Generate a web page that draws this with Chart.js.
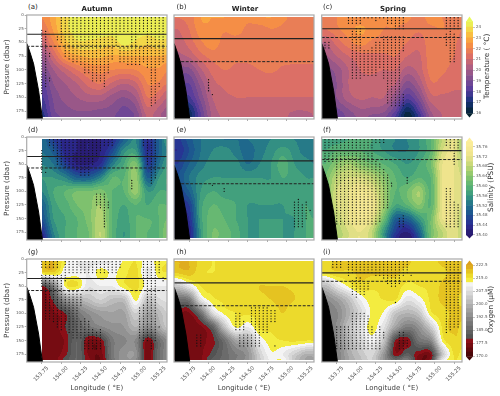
<!DOCTYPE html>
<html>
<head>
<meta charset="utf-8">
<script src="https://cdn.jsdelivr.net/npm/chart.js@4/dist/chart.umd.min.js"></script>
<style>
  body { margin: 0; background: #fff; }
  #page { position: relative; width: 500px; height: 396px; overflow: hidden; font-family: "DejaVu Sans", sans-serif; }
  canvas { position: absolute; }
  .lab { position: absolute; white-space: nowrap; color: #222; line-height: 1; }
  .bar-title { position: absolute; white-space: nowrap; color: #333; font-size: 7.3px; line-height: 8px; height: 8px; transform-origin: 0 0; transform: rotate(-90deg); }
</style>
</head>
<body>
<div id="page"></div>
<script>
var lonGrid = [153.60, 153.75, 153.90, 154.05, 154.20, 154.35, 154.50, 154.65, 154.80, 154.95, 155.10, 155.25, 155.35];
var pressureGrid = [5, 25, 50, 75, 100, 125, 150, 175, 185];
var lonTicks = [153.75, 154.00, 154.25, 154.50, 154.75, 155.00, 155.25];
var pressureTicks = [0, 25, 50, 75, 100, 125, 150, 175];
var terrainLon = [153.56, 153.60, 153.646, 153.71, 153.76];
var terrainP = [52, 68, 89, 138, 190];

var tempLevels = [16, 16.5, 17, 17.5, 18, 18.5, 19, 19.5, 20, 20.5, 21, 21.5, 22, 22.5, 23, 23.5, 24, 24.5];
var tempTicks = [16, 17, 18, 19, 20, 21, 22, 23, 24];
var salLevels = [35.40, 35.42, 35.44, 35.46, 35.48, 35.50, 35.52, 35.54, 35.56, 35.58, 35.60, 35.62, 35.64, 35.66, 35.68, 35.70, 35.72, 35.74, 35.76, 35.78];
var salTicks = [35.40, 35.44, 35.48, 35.52, 35.56, 35.60, 35.64, 35.68, 35.72, 35.76];
var oxyLevels = [170, 172.5, 175, 177.5, 180, 182.5, 185, 187.5, 190, 192.5, 195, 197.5, 200, 202.5, 205, 207.5, 210, 212.5, 215, 217.5, 220, 222.5];
var oxyTicks = [170, 177.5, 185, 192.5, 200, 207.5, 215, 222.5];

// mixed layer (solid) and second layer (dashed) depth per panel, a..i
var solidDepth = [35, 43, 25, 36, 44, 25, 36, 44, 25.5];
var dashedDepth = [57, 85, 41, 57, 86, 41.5, 58, 86, 41];

var tempA = [
  [22, 22, 22.8, 23.8, 24.3, 24.3, 24.3, 24.3, 24.3, 24.3, 24.3, 24.3, 24.3],
  [21.5, 21.5, 22.6, 23.8, 24.2, 24.3, 24.3, 24.3, 24.3, 24.3, 24.3, 24.3, 24.3],
  [20.7, 20.7, 22, 23.3, 23.9, 23.9, 23.8, 23.7, 24.2, 23.9, 23.6, 23.9, 23.8],
  [19.6, 19.6, 21, 22.4, 22.9, 23.1, 23.1, 22.9, 23, 23, 23, 23, 22.9],
  [19, 19, 20, 20.8, 21.5, 22, 22.2, 22, 21.9, 22, 22.4, 22.4, 22.1],
  [18.2, 18.2, 19.5, 20, 20.5, 21.2, 21.5, 20.9, 20.5, 20.9, 22, 21.9, 21.5],
  [17.9, 17.9, 19.1, 19.7, 20, 20.3, 20.3, 19.8, 19.5, 20, 21.5, 21.1, 20.5],
  [17.4, 17.4, 18.9, 19.3, 19.5, 19.5, 19.4, 19.3, 18.8, 19.3, 20.8, 20.3, 19.8],
  [17.2, 17.2, 18.7, 19.1, 19.3, 19.3, 19.2, 19.1, 18.6, 19.1, 20.6, 20.1, 19.6]
];
var tempB = [
  [21.5, 21.7, 22.5, 22.5, 22.5, 22.4, 22.1, 22.4, 22.5, 22.1, 21.9, 21.8, 21.8],
  [21, 21.5, 22.3, 22.4, 22.1, 22.2, 21.9, 21.8, 22, 21.9, 21.8, 21.8, 21.7],
  [20.7, 21.2, 21.9, 22.3, 21.8, 21.8, 21.8, 21.8, 21.8, 21.7, 21.7, 21.7, 21.6],
  [20.3, 20.6, 21.3, 21.7, 21.7, 21.6, 21.6, 21.6, 21.7, 21.7, 21.6, 21.6, 21.6],
  [19.3, 19.3, 20.4, 21.2, 21.5, 21.4, 21.4, 21.5, 21.6, 21.4, 21.4, 21.4, 21.4],
  [18.8, 18.5, 19.7, 20.8, 21.1, 21.1, 21.1, 21.1, 21.1, 21.1, 21.1, 21.1, 21.1],
  [18, 17.9, 19.2, 20.5, 20.9, 21, 21, 21, 21, 21, 21, 21, 21],
  [17, 16.8, 18.6, 20.2, 20.7, 20.9, 20.9, 20.9, 20.9, 20.7, 20.5, 20.5, 20.6],
  [16.5, 16.6, 18.4, 20.1, 20.6, 20.8, 20.9, 20.9, 20.9, 20.6, 20.4, 20.4, 20.5]
];
var tempC = [
  [21.8, 22, 22.1, 22.1, 22.1, 22, 22.1, 22.1, 21.8, 22.2, 22, 21.9, 21.5],
  [21.5, 21.9, 22.3, 22.6, 22.3, 22, 22, 21.8, 21.6, 21.9, 22, 21.8, 21.5],
  [20.5, 21.2, 21.8, 22.2, 21.9, 21.8, 21.8, 21.5, 21.2, 21.8, 21.8, 21.6, 21.3],
  [19.9, 20.5, 21, 21.3, 21.4, 21.4, 21.5, 21, 20.9, 21.8, 21.8, 21.5, 21.3],
  [19.3, 19.7, 20.5, 21, 21.1, 21, 21, 20.3, 20.7, 21.7, 21.6, 21.3, 21.2],
  [19.1, 19.5, 20.5, 20.8, 20.8, 20.7, 20.5, 19.3, 20.1, 21.4, 21.3, 21.1, 21.1],
  [18.7, 19.5, 20.3, 20.6, 20.5, 20.5, 19.6, 18.2, 19.2, 20.8, 20.9, 20.9, 20.9],
  [18.4, 18.8, 19.4, 19.9, 19.8, 19.6, 18.5, 16.6, 18.1, 20, 20.6, 20.7, 20.8],
  [18.2, 18.5, 19.2, 19.6, 19.4, 19.2, 18, 16.2, 17.6, 19.7, 20.5, 20.6, 20.7]
];
var salD = [
  [35.52, 35.52, 35.46, 35.43, 35.42, 35.42, 35.42, 35.44, 35.50, 35.54, 35.44, 35.50, 35.56],
  [35.52, 35.52, 35.49, 35.43, 35.42, 35.42, 35.42, 35.47, 35.55, 35.56, 35.44, 35.50, 35.54],
  [35.54, 35.54, 35.52, 35.46, 35.42, 35.42, 35.44, 35.53, 35.58, 35.63, 35.46, 35.52, 35.56],
  [35.56, 35.56, 35.56, 35.54, 35.50, 35.50, 35.54, 35.60, 35.60, 35.65, 35.50, 35.56, 35.58],
  [35.54, 35.54, 35.58, 35.60, 35.62, 35.62, 35.63, 35.60, 35.60, 35.65, 35.56, 35.58, 35.58],
  [35.50, 35.50, 35.57, 35.59, 35.62, 35.63, 35.66, 35.60, 35.58, 35.60, 35.58, 35.60, 35.60],
  [35.48, 35.48, 35.56, 35.58, 35.60, 35.63, 35.67, 35.60, 35.57, 35.60, 35.60, 35.60, 35.62],
  [35.44, 35.44, 35.54, 35.58, 35.60, 35.62, 35.68, 35.60, 35.56, 35.60, 35.60, 35.60, 35.64],
  [35.42, 35.42, 35.53, 35.58, 35.60, 35.62, 35.68, 35.60, 35.56, 35.60, 35.60, 35.60, 35.64]
];
var salE = [
  [35.45, 35.49, 35.52, 35.53, 35.52, 35.52, 35.52, 35.53, 35.54, 35.54, 35.54, 35.53, 35.53],
  [35.44, 35.48, 35.52, 35.54, 35.55, 35.53, 35.51, 35.53, 35.55, 35.57, 35.55, 35.53, 35.53],
  [35.46, 35.50, 35.53, 35.55, 35.55, 35.55, 35.52, 35.54, 35.56, 35.59, 35.56, 35.55, 35.54],
  [35.48, 35.52, 35.55, 35.56, 35.56, 35.56, 35.56, 35.56, 35.56, 35.58, 35.57, 35.56, 35.56],
  [35.46, 35.50, 35.56, 35.58, 35.57, 35.57, 35.57, 35.57, 35.57, 35.57, 35.57, 35.57, 35.57],
  [35.44, 35.46, 35.57, 35.60, 35.59, 35.58, 35.56, 35.56, 35.56, 35.56, 35.57, 35.58, 35.57],
  [35.42, 35.44, 35.57, 35.61, 35.60, 35.58, 35.56, 35.56, 35.56, 35.56, 35.56, 35.58, 35.58],
  [35.41, 35.42, 35.56, 35.62, 35.61, 35.59, 35.56, 35.56, 35.56, 35.56, 35.56, 35.58, 35.58],
  [35.41, 35.42, 35.56, 35.62, 35.61, 35.59, 35.56, 35.56, 35.56, 35.56, 35.56, 35.58, 35.58]
];
var salF = [
  [35.56, 35.57, 35.58, 35.58, 35.58, 35.55, 35.54, 35.54, 35.56, 35.60, 35.68, 35.72, 35.66],
  [35.58, 35.60, 35.60, 35.60, 35.58, 35.56, 35.54, 35.54, 35.56, 35.60, 35.70, 35.72, 35.66],
  [35.60, 35.64, 35.66, 35.64, 35.62, 35.60, 35.58, 35.56, 35.58, 35.62, 35.72, 35.72, 35.68],
  [35.62, 35.68, 35.70, 35.70, 35.68, 35.64, 35.60, 35.58, 35.60, 35.60, 35.72, 35.72, 35.70],
  [35.62, 35.70, 35.72, 35.74, 35.72, 35.66, 35.60, 35.62, 35.66, 35.60, 35.72, 35.72, 35.70],
  [35.62, 35.70, 35.72, 35.75, 35.74, 35.66, 35.58, 35.60, 35.64, 35.60, 35.72, 35.72, 35.70],
  [35.62, 35.68, 35.72, 35.74, 35.72, 35.62, 35.50, 35.50, 35.56, 35.62, 35.72, 35.72, 35.68],
  [35.62, 35.66, 35.70, 35.72, 35.68, 35.56, 35.46, 35.42, 35.50, 35.62, 35.68, 35.72, 35.68],
  [35.62, 35.66, 35.70, 35.72, 35.68, 35.56, 35.44, 35.40, 35.48, 35.62, 35.68, 35.72, 35.68]
];
var oxyG = [
  [218, 218, 220, 213, 210, 209, 209, 210, 213, 215, 211, 214, 215],
  [216, 216, 217, 211, 211, 210, 214, 212, 214, 216, 209, 214, 215],
  [180, 179, 190, 213, 215, 208, 210, 210, 214, 216, 211, 210, 210],
  [177, 176, 181, 194, 199, 202, 205, 202, 202, 213, 203, 207, 208],
  [176, 175, 177, 180, 188, 193, 196, 197, 197, 205, 197, 201, 205],
  [176, 176, 176, 180, 185, 189, 192, 194, 195, 200, 193, 198, 203],
  [176, 176, 176, 178, 185, 177, 178, 189, 192, 192, 177, 187, 192],
  [176, 176, 176, 179, 185, 177, 176, 189, 194, 194, 176, 187, 192],
  [176, 176, 176, 181, 185, 178, 175, 188, 194, 193, 176, 187, 192]
];
var oxyH = [
  [220, 220, 216.5, 215, 215.5, 215.5, 215.5, 215.5, 215.5, 215.5, 215.5, 215.5, 215.5],
  [218, 219, 215.5, 215, 215.5, 215.5, 216.5, 216.5, 216, 216, 216, 215.5, 215.5],
  [203, 209, 215, 215.5, 216, 216, 217, 217.5, 217.5, 217.5, 217, 216, 216],
  [187, 189, 208, 214, 215.5, 216, 217, 217, 217.5, 218, 217.5, 216, 216],
  [178, 177, 187, 206, 213, 215, 215.5, 215.5, 216, 217.5, 216, 216, 216],
  [176, 176, 177, 184, 202, 213, 210, 215.5, 215.5, 216, 216, 216, 216],
  [176, 176, 177, 179, 187, 197, 199, 210, 214, 215, 215.5, 215, 215],
  [176, 176, 177, 181, 186, 190, 194, 205, 212, 210, 205, 200, 200],
  [176, 176, 177, 183, 186, 190, 194, 204, 211, 212, 203, 197, 197]
];
var oxyI = [
  [216.5, 218, 218, 218, 218, 218, 218, 218, 216.5, 216.5, 218, 218, 218],
  [215.5, 217, 217, 218, 218, 218, 218, 216.5, 215.5, 215.5, 217, 218, 218],
  [201, 208, 213, 216.5, 215.5, 215.5, 216.5, 214, 215, 215.5, 218, 218, 218],
  [192, 196, 202, 210, 214, 215, 215, 208, 211, 215.5, 218, 218, 217],
  [190, 192, 199, 206, 213, 212, 203, 200, 203, 214, 216.5, 218, 218],
  [190, 193, 202, 208, 214, 208, 197, 190, 194, 204, 215.5, 218, 217],
  [189, 192, 200, 206, 211, 203, 180, 178, 188, 192, 213, 217, 216.5],
  [188, 190, 198, 203, 206, 195, 178, 183, 178, 178, 203, 215.5, 214],
  [187, 190, 197, 202, 205, 194, 185, 189, 176, 179, 208, 215, 213]
];

// stippling, one run per row of the list: longitude, first pressure, last pressure
var stippleA = [
  [153.75, 28, 145], [153.80, 30, 130], [153.85, 70, 75], [153.85, 115, 120], [153.95, 40, 45],
  [154.00, 5, 50], [154.05, 5, 75], [154.10, 5, 80], [154.15, 5, 85], [154.20, 5, 85], [154.25, 5, 90],
  [154.30, 5, 105], [154.35, 5, 105], [154.40, 5, 120], [154.45, 5, 120], [154.50, 5, 120], [154.55, 5, 130],
  [154.60, 5, 105], [154.65, 5, 80], [154.70, 5, 55], [154.75, 5, 30], [154.75, 60, 85], [154.80, 5, 30], [154.80, 60, 85],
  [154.85, 5, 30], [154.85, 60, 90], [154.90, 5, 90], [154.95, 5, 90], [155.00, 5, 30], [155.00, 60, 90],
  [155.05, 5, 30], [155.05, 60, 85], [155.10, 5, 95], [155.15, 5, 165], [155.20, 5, 160], [155.25, 5, 90], [155.25, 125, 130], [155.30, 5, 85]
];
var stippleB = [[154.00, 118, 140], [154.05, 145, 145]];
var stippleC = [
  [153.60, 50, 60], [153.65, 50, 60], [153.90, 5, 15], [153.95, 5, 15], [153.95, 30, 115], [154.00, 5, 15], [154.00, 25, 115], [154.05, 5, 15], [154.05, 25, 115],
  [154.10, 5, 5], [154.10, 65, 110], [154.15, 5, 5], [154.15, 65, 110], [154.20, 5, 5], [154.20, 60, 110], [154.25, 5, 10], [154.25, 50, 110],
  [154.30, 5, 5], [154.30, 50, 95], [154.35, 5, 5], [154.35, 40, 115], [154.40, 5, 15], [154.40, 40, 160], [154.45, 5, 15], [154.45, 40, 165],
  [154.50, 5, 25], [154.50, 40, 165], [154.55, 5, 25], [154.55, 40, 165], [154.60, 5, 25], [154.60, 40, 65], [154.60, 145, 165],
  [155.15, 5, 25], [155.15, 35, 55], [155.20, 5, 25], [155.20, 30, 85], [155.25, 5, 25], [155.25, 35, 85], [155.30, 5, 25]
];
var stippleD = [
  [153.75, 25, 65], [153.80, 65, 65], [153.85, 5, 15], [153.90, 5, 25], [153.95, 5, 50], [154.00, 5, 50], [154.05, 5, 55], [154.10, 5, 55], [154.15, 5, 55],
  [154.20, 5, 60], [154.25, 5, 70], [154.30, 5, 70], [154.35, 5, 70], [154.40, 5, 50], [154.45, 5, 35], [154.45, 105, 125], [154.50, 5, 25], [154.50, 105, 130],
  [154.55, 5, 15], [154.55, 105, 165], [154.60, 5, 15], [154.60, 120, 130], [154.65, 5, 15], [154.90, 80, 95], [155.05, 5, 15], [155.10, 5, 50], [155.15, 5, 85], [155.20, 5, 75]
];
var stippleE = [
  [154.05, 89, 89], [154.20, 95, 100], [155.10, 120, 165], [155.15, 115, 165], [155.20, 125, 165], [155.25, 120, 150], [155.30, 135, 135]
];
var stippleF = [
  [153.60, 5, 45], [153.65, 5, 45], [153.70, 5, 45], [153.75, 5, 160], [153.80, 5, 160], [153.85, 5, 160], [153.90, 5, 160], [153.95, 5, 160],
  [154.00, 5, 160], [154.05, 5, 160], [154.10, 5, 160], [154.15, 5, 160], [154.20, 5, 160], [154.25, 5, 10], [154.25, 45, 160],
  [154.30, 5, 10], [154.30, 50, 155], [154.35, 5, 10], [154.35, 60, 130], [154.40, 70, 130], [154.45, 85, 90], [154.55, 150, 165], [154.60, 145, 165], [154.65, 75, 85],
  [155.15, 5, 15], [155.15, 95, 165], [155.20, 5, 25], [155.20, 95, 165], [155.25, 5, 50], [155.25, 120, 165], [155.30, 5, 20], [155.30, 125, 165]
];
var stippleG = [
  [153.75, 5, 15], [153.75, 30, 50], [153.80, 5, 15], [153.80, 30, 110], [153.85, 5, 15], [153.85, 30, 110], [153.90, 5, 15], [153.90, 30, 115], [153.95, 5, 15], [153.95, 30, 125],
  [154.00, 30, 130], [154.05, 5, 25], [154.05, 30, 40], [154.05, 65, 125], [154.10, 5, 25], [154.10, 60, 135], [154.15, 5, 25], [154.15, 60, 145], [154.20, 5, 25], [154.20, 60, 145],
  [154.25, 5, 25], [154.25, 65, 85], [154.25, 115, 145], [154.30, 5, 25], [154.30, 110, 165], [154.35, 5, 25], [154.35, 115, 165], [154.40, 5, 25], [154.40, 130, 165], [154.45, 5, 25], [154.45, 135, 165],
  [154.50, 5, 25], [154.50, 130, 165], [154.55, 5, 25], [154.60, 5, 25], [154.65, 5, 25], [154.70, 5, 25], [154.75, 5, 15],
  [155.00, 90, 145], [155.05, 5, 50], [155.05, 85, 150], [155.10, 5, 150], [155.15, 5, 165], [155.20, 5, 150], [155.25, 5, 25], [155.25, 125, 125], [155.30, 35, 40]
];
var stippleH = [
  [153.85, 140, 160], [153.90, 140, 160], [154.35, 100, 130], [154.40, 100, 130], [154.40, 140, 160], [154.45, 115, 130], [154.45, 140, 160],
  [154.50, 140, 160], [154.55, 90, 120], [154.55, 140, 160], [154.60, 90, 160], [154.65, 90, 160], [154.70, 90, 135], [154.75, 90, 135], [154.80, 95, 115], [154.85, 95, 115], [154.85, 160, 160]
];
var stippleI = [
  [153.70, 5, 15], [153.75, 5, 15], [153.75, 125, 165], [153.80, 5, 15], [153.80, 125, 165], [153.85, 125, 165], [153.90, 5, 30], [153.90, 125, 165], [153.95, 5, 25], [153.95, 40, 65], [153.95, 100, 165],
  [154.00, 5, 25], [154.00, 35, 70], [154.00, 100, 165], [154.05, 5, 25], [154.05, 35, 65], [154.05, 100, 165], [154.10, 5, 25], [154.10, 45, 65], [154.10, 100, 165], [154.15, 5, 25], [154.15, 45, 55], [154.15, 105, 165],
  [154.20, 5, 25], [154.20, 125, 165], [154.25, 5, 30], [154.25, 135, 165], [154.30, 5, 30], [154.30, 125, 165], [154.35, 5, 35], [154.35, 135, 145],
  [154.40, 5, 45], [154.45, 5, 50], [154.50, 5, 50], [154.50, 80, 80], [154.55, 5, 45], [154.55, 135, 165], [154.60, 5, 30], [154.60, 135, 165], [154.65, 5, 25], [154.65, 150, 160], [154.70, 30, 30],
  [155.15, 5, 135], [155.20, 5, 130], [155.25, 5, 125], [155.30, 5, 125]
];

var thermalStops = [[16, '#04232f'], [17.06, '#17337a'], [18.1, '#553b9d'], [19.2, '#814f8f'], [20.25, '#af5f82'], [21.3, '#de7065'], [22.4, '#f99341'], [23.4, '#f9c641'], [24.5, '#e7fa5a']];
var halineStops = [[35.40, '#29186b'], [35.44, '#2b2c94'], [35.48, '#1d5090'], [35.52, '#1f708b'], [35.56, '#3a9a80'], [35.60, '#5cb474'], [35.64, '#8ac66c'], [35.68, '#c0d674'], [35.72, '#ece28a'], [35.78, '#fdee9b']];
var oxyStops = [[170, '#400505'], [179.99, '#96101a'], [180, '#4d4d4d'], [190, '#7d7d7d'], [200, '#b4b4b4'], [212.49, '#fbfbfb'], [212.5, '#f7f24a'], [215, '#efe635'], [217.5, '#e8ce22'], [222.5, '#dca01e']];

var plotLeft = [26.7, 174, 321.7];
var plotTop = [14.7, 136.3, 258];
var plotW = 142;
var plotH = 103.5;
var lonMin = 153.558, lonMax = 155.35;
var pMax = 189.5;

function hexRgb(h) {
  return [parseInt(h.substr(1, 2), 16), parseInt(h.substr(3, 2), 16), parseInt(h.substr(5, 2), 16)];
}
function colorAt(stops, v) {
  if (v <= stops[0][0]) return stops[0][1];
  for (var i = 1; i < stops.length; i++) {
    if (v <= stops[i][0]) {
      var t = (v - stops[i - 1][0]) / (stops[i][0] - stops[i - 1][0]);
      var a = hexRgb(stops[i - 1][1]), b = hexRgb(stops[i][1]);
      return 'rgb(' + Math.round(a[0] + (b[0] - a[0]) * t) + ',' + Math.round(a[1] + (b[1] - a[1]) * t) + ',' + Math.round(a[2] + (b[2] - a[2]) * t) + ')';
    }
  }
  return stops[stops.length - 1][1];
}
function bandOf(levels, v) {
  var n = 0;
  while (n < levels.length - 2 && v >= levels[n + 1]) n++;
  return n;
}
function fracIndex(arr, v) {
  if (v <= arr[0]) return 0;
  for (var i = 1; i < arr.length; i++) {
    if (v <= arr[i]) return i - 1 + (v - arr[i - 1]) / (arr[i] - arr[i - 1]);
  }
  return arr.length - 1;
}
function cr(a, b, c, d, t) {
  return b + 0.5 * t * (c - a + t * (2 * a - 5 * b + 4 * c - d + t * (3 * (b - c) + d - a)));
}
function at(list, i) {
  return list[Math.max(0, Math.min(list.length - 1, i))];
}
// smooth read of the grid, used only to colour the contour bands
function fieldValue(grid, lon, p) {
  var fx = fracIndex(lonGrid, lon), fy = fracIndex(pressureGrid, p);
  var ix = Math.floor(fx), iy = Math.floor(fy), tx = fx - ix, ty = fy - iy;
  var col = [];
  for (var j = -1; j <= 2; j++) {
    var row = at(grid, iy + j);
    col.push(cr(at(row, ix - 1), at(row, ix), at(row, ix + 1), at(row, ix + 2), tx));
  }
  return cr(col[0], col[1], col[2], col[3], ty);
}

var fieldPlugin = {
  id: 'field',
  beforeDatasetsDraw: function (chart, args, opts) {
    var ctx = chart.ctx, a = chart.chartArea, xs = chart.scales.x, ys = chart.scales.y;
    var colors = opts.levels.slice(0, -1).map(function (l, i) {
      return colorAt(opts.stops, (l + opts.levels[i + 1]) / 2);
    });
    ctx.save();
    ctx.beginPath();
    ctx.rect(a.left, a.top, a.right - a.left, a.bottom - a.top);
    ctx.clip();
    var left = Math.floor(a.left), right = Math.ceil(a.right);
    for (var py = Math.floor(a.top); py < Math.ceil(a.bottom); py++) {
      var p = ys.getValueForPixel(py + 0.5);
      if (p < 4 || p > 185) continue;
      var start = null, band = -1;
      for (var px = left; px <= right; px++) {
        var lon = xs.getValueForPixel(px + 0.5);
        var b = (px === right || lon < opts.startLon) ? -1 : bandOf(opts.levels, fieldValue(opts.grid, lon, p));
        if (b !== band) {
          if (band >= 0) {
            ctx.fillStyle = colors[band];
            ctx.fillRect(start, py, px - start, 1);
          }
          band = b;
          start = px;
        }
      }
    }
    ctx.restore();
  },
  afterDraw: function (chart) {
    var ctx = chart.ctx, a = chart.chartArea;
    ctx.save();
    ctx.strokeStyle = '#aaaaaa';
    ctx.lineWidth = 1.2;
    ctx.strokeRect(a.left, a.top, a.right - a.left, a.bottom - a.top);
    ctx.restore();
  }
};

function runsToPoints(runs) {
  var pts = [];
  runs.forEach(function (r) {
    for (var p = r[1]; p <= r[2]; p += 5) pts.push({ x: r[0], y: p });
  });
  return pts;
}
function zipXY(xs, ys) {
  return xs.map(function (x, i) { return { x: x, y: ys[i] }; });
}

function addCanvas(left, top, w, h) {
  var c = document.createElement('canvas');
  c.width = w;
  c.height = h;
  c.style.left = left + 'px';
  c.style.top = top + 'px';
  c.style.width = w + 'px';
  c.style.height = h + 'px';
  document.getElementById('page').appendChild(c);
  return c;
}
function addLabel(text, x, y, size, bold, centered) {
  var d = document.createElement('div');
  d.className = 'lab';
  d.textContent = text;
  d.style.left = x + 'px';
  d.style.top = y + 'px';
  d.style.fontSize = size + 'px';
  if (bold) d.style.fontWeight = 'bold';
  if (centered) d.style.transform = 'translateX(-50%)';
  document.getElementById('page').appendChild(d);
}

function drawPanel(col, row, grid, stipple, levels, stops, idx) {
  var yWidth = col === 0 ? 26.7 : 4;
  var xHeight = row === 2 ? 35 : 4;
  var cLeft = Math.floor(plotLeft[col] - yWidth);
  var cTop = Math.floor(plotTop[row] - 3);
  var padLeft = plotLeft[col] - yWidth - cLeft;
  var padTop = plotTop[row] - cTop;
  var c = addCanvas(cLeft, cTop, Math.ceil(padLeft + yWidth + plotW + 2), Math.ceil(padTop + plotH + xHeight));
  new Chart(c, {
    type: 'scatter',
    data: {
      datasets: [
        { data: runsToPoints(stipple), pointRadius: 0.65, pointBackgroundColor: '#111', pointBorderWidth: 0, order: 3 },
        {
          data: zipXY(terrainLon, terrainP), showLine: true, pointRadius: 0, borderColor: '#000', borderWidth: 1,
          backgroundColor: '#000', fill: { value: pMax }, order: 2
        },
        {
          data: zipXY([lonMin, lonMax], [solidDepth[idx], solidDepth[idx]]), showLine: true, pointRadius: 0,
          borderColor: '#222', borderWidth: 1.1, order: 1
        },
        {
          data: zipXY([col === 1 ? 153.65 : lonMin, lonMax], [dashedDepth[idx], dashedDepth[idx]]), showLine: true, pointRadius: 0,
          borderColor: '#222', borderWidth: 1, borderDash: [3, 1.5], order: 0
        }
      ]
    },
    options: {
      responsive: false,
      animation: false,
      devicePixelRatio: 1,
      layout: { padding: { left: padLeft, top: padTop, right: 1, bottom: 0 } },
      plugins: {
        legend: { display: false },
        tooltip: { enabled: false },
        field: { grid: grid, levels: levels, stops: stops, startLon: col === 0 ? 153.75 : lonMin }
      },
      scales: {
        x: {
          type: 'linear',
          min: lonMin,
          max: lonMax,
          afterBuildTicks: function (s) { s.ticks = lonTicks.map(function (v) { return { value: v }; }); },
          afterFit: function (s) { s.height = xHeight; },
          grid: { drawOnChartArea: false, tickLength: 2, tickColor: '#777', tickWidth: 0.6 },
          border: { display: false },
          ticks: {
            display: row === 2,
            font: { family: 'DejaVu Sans', size: 5.4 },
            color: '#555',
            minRotation: 45,
            maxRotation: 45,
            padding: 1,
            labelOffset: 6,
            callback: function (v) { return v.toFixed(2); }
          },
          title: {
            display: row === 2,
            text: 'Longitude ( °E)',
            font: { family: 'DejaVu Sans', size: 7 },
            color: '#444',
            padding: { top: 0, bottom: 5 }
          }
        },
        y: {
          type: 'linear',
          reverse: true,
          min: 0,
          max: pMax,
          afterBuildTicks: function (s) { s.ticks = pressureTicks.map(function (v) { return { value: v }; }); },
          afterFit: function (s) { s.width = yWidth; },
          grid: { drawOnChartArea: false, drawTicks: col === 0, tickLength: 2, tickColor: '#777', tickWidth: 0.6 },
          border: { display: false },
          ticks: {
            display: col === 0,
            font: { family: 'DejaVu Sans', size: 4 },
            color: '#555',
            padding: 1
          },
          title: {
            display: col === 0,
            text: 'Pressure (dbar)',
            font: { family: 'DejaVu Sans', size: 7.2 },
            color: '#444',
            padding: { top: 3, bottom: 0 }
          }
        }
      }
    },
    plugins: [fieldPlugin]
  });
}

var extendPlugin = {
  id: 'extend',
  afterDatasetsDraw: function (chart, args, opts) {
    var ctx = chart.ctx, a = chart.chartArea, ys = chart.scales.y;
    var top = ys.getPixelForValue(opts.levels[opts.levels.length - 1]);
    var bot = ys.getPixelForValue(opts.levels[0]);
    var mid = (a.left + a.right) / 2;
    ctx.save();
    ctx.fillStyle = colorAt(opts.stops, opts.levels[opts.levels.length - 1]);
    ctx.beginPath();
    ctx.moveTo(a.left, top);
    ctx.lineTo(mid, a.top);
    ctx.lineTo(a.right, top);
    ctx.fill();
    ctx.fillStyle = colorAt(opts.stops, opts.levels[0]);
    ctx.beginPath();
    ctx.moveTo(a.left, bot);
    ctx.lineTo(mid, a.bottom);
    ctx.lineTo(a.right, bot);
    ctx.fill();
    ctx.restore();
  }
};

function drawBar(top, bottom, vMin, vMax, levels, tickList, stops, decimals, title, titleX) {
  var cTop = Math.floor(top) - 1;
  var c = addCanvas(464, cTop, 36, Math.ceil(bottom) - cTop + 2);
  var sets = levels.slice(0, -1).map(function (l, i) {
    return {
      data: [[l, levels[i + 1]]],
      backgroundColor: colorAt(stops, (l + levels[i + 1]) / 2),
      borderWidth: 0,
      barPercentage: 1,
      categoryPercentage: 1,
      grouped: false
    };
  });
  new Chart(c, {
    type: 'bar',
    data: { labels: [''], datasets: sets },
    options: {
      responsive: false,
      animation: false,
      devicePixelRatio: 1,
      layout: { padding: { left: 2, top: top - cTop, bottom: Math.ceil(bottom) - cTop + 2 - (bottom - cTop), right: 0 } },
      plugins: {
        legend: { display: false },
        tooltip: { enabled: false },
        extend: { levels: levels, stops: stops }
      },
      scales: {
        x: { display: false },
        y: {
          position: 'right',
          min: vMin,
          max: vMax,
          afterBuildTicks: function (s) { s.ticks = tickList.map(function (v) { return { value: v }; }); },
          afterFit: function (s) { s.width = 27; },
          grid: { drawOnChartArea: false, tickLength: 2, tickColor: '#888', tickWidth: 0.5 },
          border: { display: false },
          ticks: {
            font: { family: 'DejaVu Sans', size: 4 },
            color: '#555',
            padding: 1,
            callback: function (v) { return v.toFixed(decimals); }
          }
        }
      }
    },
    plugins: [extendPlugin]
  });
  var d = document.createElement('div');
  d.className = 'bar-title';
  d.textContent = title;
  document.getElementById('page').appendChild(d);
  // whole pixels keep the rotated text sharp
  d.style.left = Math.round(titleX - 4) + 'px';
  d.style.top = Math.round((top + bottom) / 2 + d.offsetWidth / 2) + 'px';
}

drawPanel(0, 0, tempA, stippleA, tempLevels, thermalStops, 0);
drawPanel(1, 0, tempB, stippleB, tempLevels, thermalStops, 1);
drawPanel(2, 0, tempC, stippleC, tempLevels, thermalStops, 2);
drawPanel(0, 1, salD, stippleD, salLevels, halineStops, 3);
drawPanel(1, 1, salE, stippleE, salLevels, halineStops, 4);
drawPanel(2, 1, salF, stippleF, salLevels, halineStops, 5);
drawPanel(0, 2, oxyG, stippleG, oxyLevels, oxyStops, 6);
drawPanel(1, 2, oxyH, stippleH, oxyLevels, oxyStops, 7);
drawPanel(2, 2, oxyI, stippleI, oxyLevels, oxyStops, 8);

drawBar(14, 118.3, 15.585, 24.99, tempLevels, tempTicks, thermalStops, 0, 'Temperature ( °C)', 487);
drawBar(135.7, 239.3, 35.3845, 35.7986, salLevels, salTicks, halineStops, 2, 'Salinity (PSU)', 491);
drawBar(258, 361.3, 167.6, 225.2, oxyLevels, oxyTicks, oxyStops, 1, 'Oxygen (µM)', 491);

addLabel('(a)', 28, 4, 7, false);
addLabel('(b)', 176.5, 4, 7, false);
addLabel('(c)', 323, 4, 7, false);
addLabel('(d)', 28, 127, 7, false);
addLabel('(e)', 176.5, 127, 7, false);
addLabel('(f)', 323, 127, 7, false);
addLabel('(g)', 28, 249, 7, false);
addLabel('(h)', 176.5, 249, 7, false);
addLabel('(i)', 323, 249, 7, false);
addLabel('Autumn', 97, 6, 7, true, true);
addLabel('Winter', 245, 6, 7, true, true);
addLabel('Spring', 393, 6, 7, true, true);
</script>
</body>
</html>
